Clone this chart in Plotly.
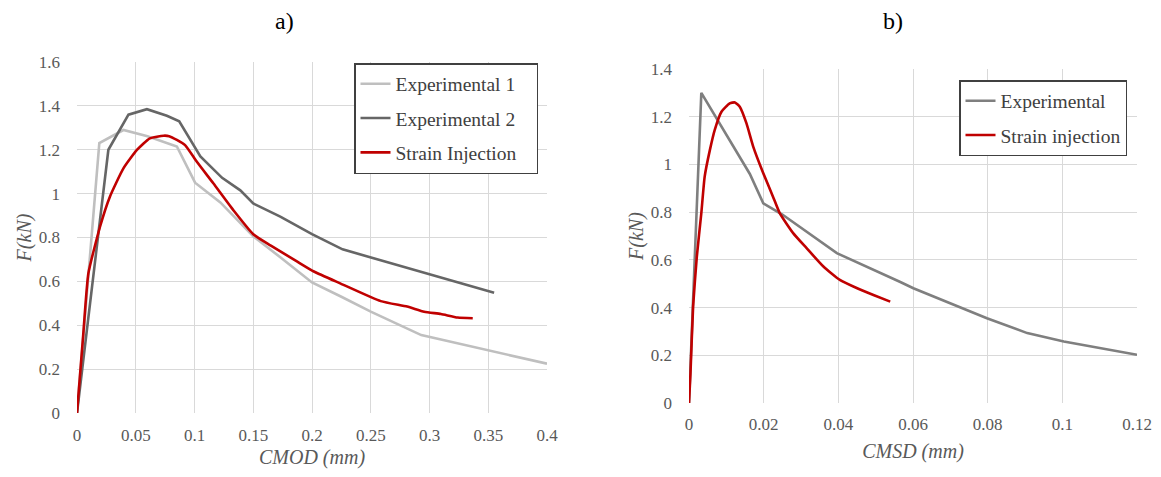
import plotly.graph_objects as go

# ---- data: panel a) ----
exp1_x = [0, 0.019, 0.0395, 0.06, 0.085, 0.1005, 0.122, 0.15, 0.173, 0.2, 0.225, 0.25, 0.293, 0.4]
exp1_y = [0, 1.23, 1.29, 1.262, 1.215, 1.05, 0.96, 0.805, 0.71, 0.595, 0.53, 0.462, 0.355, 0.225]

exp2_x = [0, 0.019, 0.0267, 0.0438, 0.0595, 0.0765, 0.087, 0.105, 0.1235, 0.139, 0.15, 0.173, 0.2, 0.226, 0.355]
exp2_y = [0, 0.84, 1.2, 1.36, 1.385, 1.355, 1.33, 1.17, 1.072, 1.015, 0.955, 0.895, 0.815, 0.746, 0.548]

si_x = [0, 0.0054, 0.0097, 0.0196, 0.028, 0.0395, 0.051, 0.062, 0.0737, 0.0784, 0.085, 0.092,
        0.102, 0.116, 0.133, 0.150, 0.165, 0.1875, 0.2016, 0.2244, 0.2585, 0.281, 0.2955,
        0.3097, 0.324, 0.3368]
si_y = [0, 0.363, 0.637, 0.849, 0.986, 1.115, 1.199, 1.252, 1.264, 1.262, 1.245, 1.221,
        1.145, 1.047, 0.925, 0.815, 0.763, 0.69, 0.645, 0.59, 0.51, 0.485, 0.462,
        0.451, 0.435, 0.432]

# ---- data: panel b) ----
exp_b_x = [0, 0.0033, 0.0163, 0.0199, 0.025, 0.0396, 0.0566, 0.0601, 0.0798, 0.0906, 0.1004, 0.12]
exp_b_y = [0, 1.30, 0.96, 0.837, 0.79, 0.628, 0.507, 0.481, 0.355, 0.293, 0.258, 0.202]

si_b_x = [0, 0.0004, 0.0011, 0.0021, 0.0033, 0.0042, 0.0056, 0.0069, 0.0087, 0.0109, 0.0123,
          0.0136, 0.0154, 0.0172, 0.0199, 0.0225, 0.0243, 0.0279, 0.0315, 0.036, 0.0404,
          0.0449, 0.0494, 0.0539]
si_b_y = [0, 0.126, 0.405, 0.614, 0.796, 0.949, 1.061, 1.145, 1.221, 1.256, 1.26,
          1.242, 1.172, 1.075, 0.963, 0.865, 0.796, 0.712, 0.649, 0.572, 0.516,
          0.482, 0.453, 0.425]

# ---- tick labels ----
a_xticks = [0, 0.05, 0.1, 0.15, 0.2, 0.25, 0.3, 0.35, 0.4]
a_xlabels = ["0", "0.05", "0.1", "0.15", "0.2", "0.25", "0.3", "0.35", "0.4"]
a_yticks = [0, 0.2, 0.4, 0.6, 0.8, 1.0, 1.2, 1.4, 1.6]
a_ylabels = ["0", "0.2", "0.4", "0.6", "0.8", "1", "1.2", "1.4", "1.6"]
b_xticks = [0, 0.02, 0.04, 0.06, 0.08, 0.1, 0.12]
b_xlabels = ["0", "0.02", "0.04", "0.06", "0.08", "0.1", "0.12"]
b_yticks = [0, 0.2, 0.4, 0.6, 0.8, 1.0, 1.2, 1.4]
b_ylabels = ["0", "0.2", "0.4", "0.6", "0.8", "1", "1.2", "1.4"]

SERIF = "'Liberation Serif', 'Times New Roman', serif"
TICKC = "#595959"
GRIDC = "#d9d9d9"
LW = 2.6
NB = "\u00a0"

# page body has an 8px margin; figure sized so page = 1161 x 477
OFF = 8
W, H = 1161 - 2 * OFF, 477 - 2 * OFF


def PX(p):
    return (p - OFF) / W


def PY(p):
    return (H - (p - OFF)) / H


fig = go.Figure()
fig.add_trace(go.Scatter(x=exp1_x, y=exp1_y, mode="lines", name="Experimental 1" + NB * 3,
                         line=dict(color="#bfbfbf", width=LW), xaxis="x", yaxis="y",
                         legend="legend", legendgroup="a1"))
fig.add_trace(go.Scatter(x=exp2_x, y=exp2_y, mode="lines", name="Experimental 2" + NB * 3,
                         line=dict(color="#666666", width=LW), xaxis="x", yaxis="y",
                         legend="legend", legendgroup="a2"))
fig.add_trace(go.Scatter(x=si_x, y=si_y, mode="lines", name="Strain Injection" + NB * 3,
                         line=dict(color="#c00000", width=LW, shape="spline", smoothing=0.5),
                         xaxis="x", yaxis="y", legend="legend", legendgroup="a3"))
fig.add_trace(go.Scatter(x=exp_b_x, y=exp_b_y, mode="lines", name="Experimental",
                         line=dict(color="#7f7f7f", width=LW), xaxis="x2", yaxis="y2",
                         legend="legend2", legendgroup="b1"))
fig.add_trace(go.Scatter(x=si_b_x, y=si_b_y, mode="lines", name="Strain injection",
                         line=dict(color="#c00000", width=LW, shape="spline", smoothing=0.5),
                         xaxis="x2", yaxis="y2", legend="legend2", legendgroup="b2"))


def ax(domain, rng, tv, tt, anchor, title, standoff, lblstand):
    return dict(domain=domain, range=rng, tickvals=tv, ticktext=tt, anchor=anchor,
                automargin=False,
                showgrid=True, gridcolor=GRIDC, gridwidth=1, zeroline=False,
                showline=False, ticks="", fixedrange=True, ticklabelstandoff=lblstand,
                tickfont=dict(family=SERIF, size=17, color=TICKC),
                title=dict(text=title, font=dict(family=SERIF, size=20, color=TICKC),
                           standoff=standoff))


leg_common = dict(xanchor="left", yanchor="top", bgcolor="white",
                  bordercolor="#404040", borderwidth=1.5,
                  font=dict(family=SERIF, size=19.5, color="#404040"),
                  traceorder="grouped", tracegroupgap=6, itemwidth=30)

fig.update_layout(
    width=W, height=H, autosize=False,
    margin=dict(l=0, r=0, t=0, b=0, autoexpand=False),
    paper_bgcolor="white", plot_bgcolor="white",
    xaxis=ax([PX(77), PX(547)], [0, 0.4], a_xticks, a_xlabels, "y", "<i>CMOD (mm)</i>", 6, 10),
    yaxis=ax([PY(413), PY(62)], [0, 1.6], a_yticks, a_ylabels, "x", "<i>F(kN)</i>", 1, 16),
    xaxis2=ax([PX(689), PX(1137)], [0, 0.12], b_xticks, b_xlabels, "y2", "<i>CMSD (mm)</i>", 10, 9),
    yaxis2=ax([PY(403), PY(69)], [0, 1.4], b_yticks, b_ylabels, "x2", "<i>F(kN)</i>", 1, 16),
    legend=dict(x=PX(354), y=PY(63), **leg_common),
    legend2=dict(x=PX(959), y=PY(80), **leg_common),
    annotations=[
        dict(text="a)", x=PX(284), y=PY(21), xref="paper", yref="paper",
             xanchor="center", yanchor="middle",
             showarrow=False, font=dict(family=SERIF, size=24, color="black")),
        dict(text="b)", x=PX(893), y=PY(21), xref="paper", yref="paper",
             xanchor="center", yanchor="middle",
             showarrow=False, font=dict(family=SERIF, size=24, color="black")),
    ],
    showlegend=True,
)

fig.write_html("out.html")
